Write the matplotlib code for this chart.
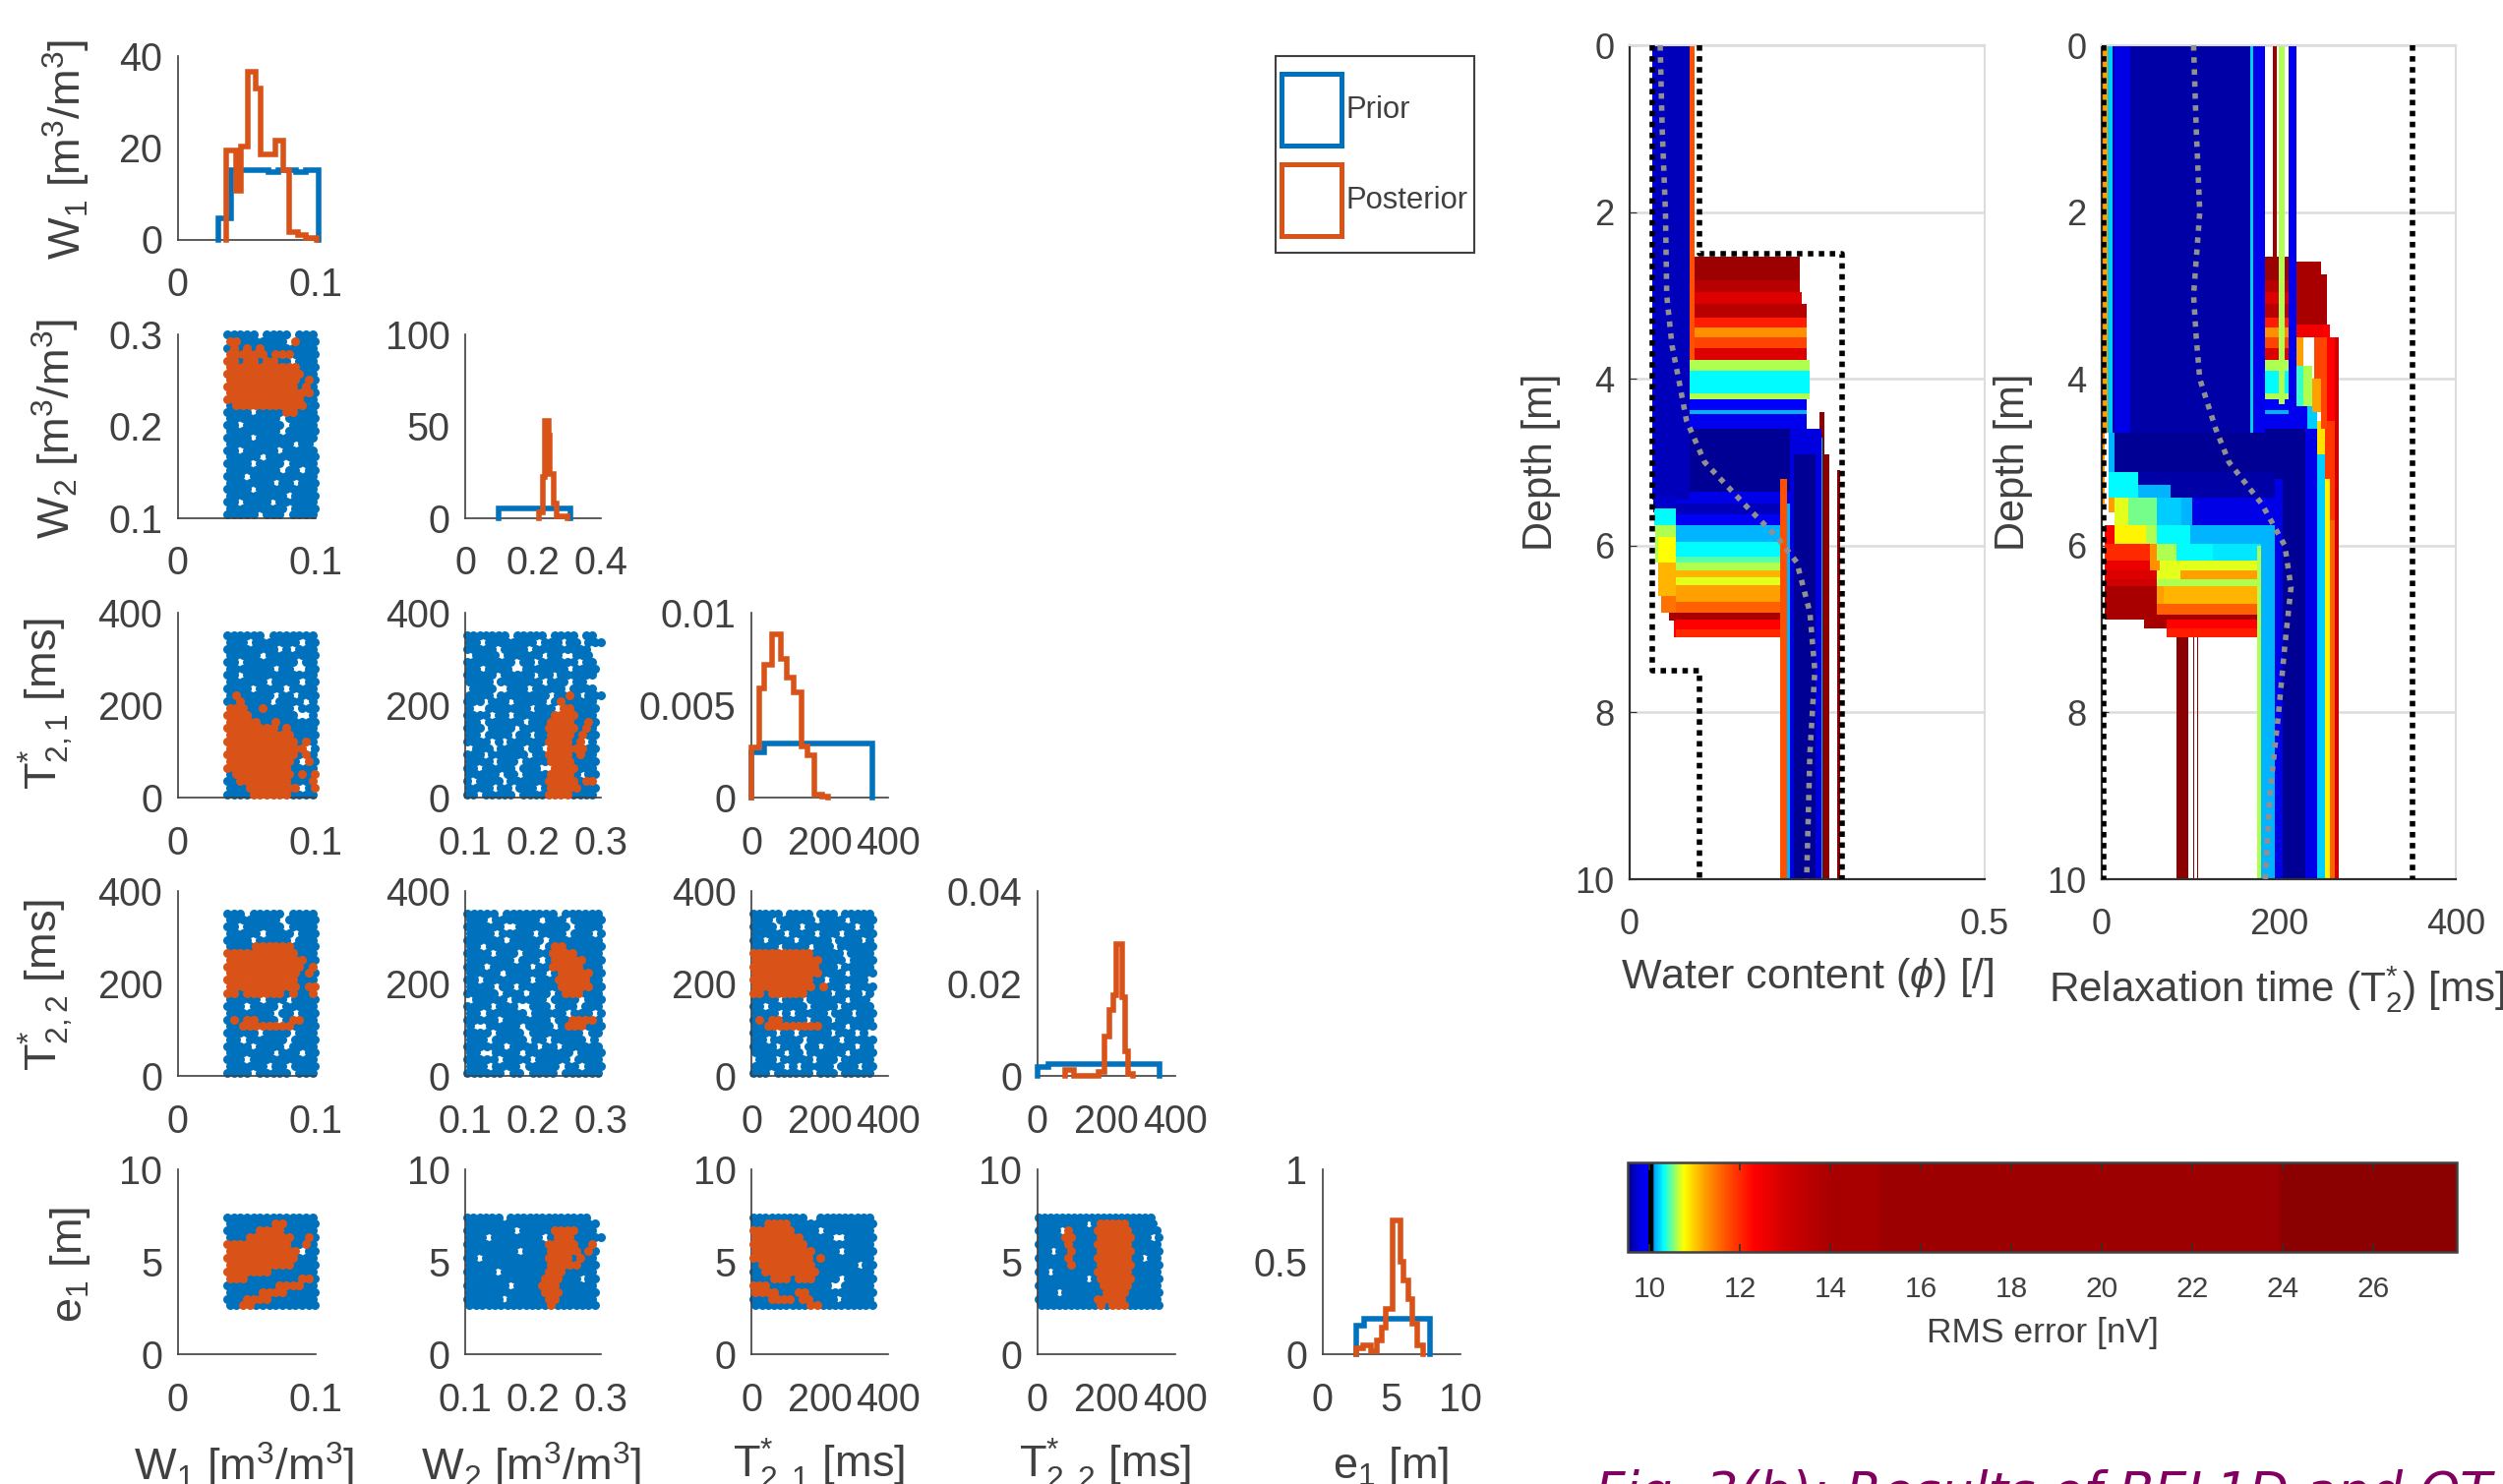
import matplotlib
matplotlib.use('Agg')
import matplotlib.pyplot as plt
from matplotlib.cm import ScalarMappable
from matplotlib.colors import LinearSegmentedColormap, Normalize
from matplotlib.patches import Patch, Rectangle

W, H = 2545, 1509
BLUE = '#0072BD'
ORANGE = '#D95319'
INK = '#404040'

plt.rcParams['font.family'] = ['Liberation Sans', 'DejaVu Sans']
plt.rcParams['mathtext.fontset'] = 'custom'
plt.rcParams['mathtext.rm'] = 'Liberation Sans'
plt.rcParams['mathtext.it'] = 'Liberation Sans:italic'
plt.rcParams['mathtext.bf'] = 'Liberation Sans:bold'
plt.rcParams['text.color'] = INK

# histograms (bin edges, then heights)
w1_prior_edges = [.0293, .0384, .0656, .0728, .0855, .0928, .1018]
w1_prior_vals = [4.6, 15.2, 14.6, 15.2, 14.6, 15.2]
w1_post_edges = [.0355, .042, .0457, .051, .0565, .06, .071, .0765, .081, .0873, .0928, .1007]
w1_post_vals = [19.5, 10.7, 20.3, 36.6, 33, 18.5, 21.6, 15.2, 1.7, 1, .3]
w2_prior_edges = [.0993, .311]
w2_prior_vals = [5]
w2_post_edges = [.218, .228, .2356, .245, .25, .262, .27, .3]
w2_post_vals = [3, 22, 53, 45, 24, 8, 1]
t1_prior_edges = [0, 36, 355]
t1_prior_vals = [.00245, .0029]
t1_post_edges = [0, 24, 38, 60, 86, 104, 125, 147, 163, 184, 206, 225]
t1_post_vals = [.0027, .0059, .00716, .00885, .0075, .00648, .0057, .00275, .00227, .00014, .00005]
t2_prior_edges = [0, 32, 355]
t2_prior_vals = [.0019, .0025]
t2_post_edges = [82, 108, 178, 194, 210, 222, 229, 245, 254, 264, 277]
t2_post_vals = [.00125, .0001, .0008, .0085, .0143, .0175, .0284, .017, .0054, .0005]
e1_prior_edges = [2.44, 3, 7.78]
e1_prior_vals = [.154, .194]
e1_post_edges = [2.44, 2.92, 3.49, 3.97, 4.29, 4.6, 5.08, 5.62, 5.9, 6.2, 6.5, 6.9, 7.3]
e1_post_vals = [.03, .05, .015, .076, .143, .243, .723, .5, .4, .3, .165, .05]

# scatter clouds: sample sites, one text row per
# row of sites ('#' prior, 'o' posterior). Single dots cannot be told apart in
# the reference, so the holes in the blue clouds are only estimates.
w1_w2 = [
    "##### #### ###", "oo####### o###", "#o#o#o########", "oooooo#ooo####", "oo#oo#oo## ###",
    "ooooooooooo###", "oooooooooooo##", "ooooooooooo#o#", "ooooooooooo#o#", "ooooooooooooo#",
    "oooooooooooo##", "#ooooooooooo##", "#### ####oo###", "######## #####", "## ###### ####",
    "######## #####", "#### #########", "########## ##", "## ##### #####", "##### ########",
    "#### #### ####", "######## ## ##", "### ##########", "####### ## ###", "#### #########",
    "######### ####", "## #### ######", "######### ####", "##### ### ####",
]
w1_t1 = [
    "###### #######", "### ####### ##", "######## # ###", "##### ########", "## ######## ##",
    "####### ##  ##", "## ###########", "###### #### ##", "#### #### ####", "#o##### ## ###",
    "##o#### #### #", "ooo##o#### ###", "oooo#######  #", "ooooo##o######", "oooooooo#o####",
    "oooooooooo####", "ooooooooooo#o#", "oooooooooooo #", "ooooooooooo#o#", "oooooooooo# o#",
    "oooooooooo####", "#ooooooooo#o#o", "##oooooooo###o", "###oooooooo #o", "####oooooo####",
]
w2_t1 = [
    "####### ##### #### ##", "## ######## ### ## ###", "##### #### #########", " #### ###### ##  ###",
    "######## ## ###### ##", "## ####  ####### ####", "##### ##### ## ######", "#### ####### ### ##",
    " ####  ### ##### ####", "#### ######## ##o# ###", "### ### ##### #o#####", "#  ####### ### oo####",
    "#### ## ######oooo###", "## ###### ###oooo##o#", "### #### ####ooooo#o#", "## #### ## ##oooo#o##",
    "#### # ######oooo#o #", " ### #### ## oooooo##", "### ###### ##oooo#o##", "#### ### ####oooo####",
    "## ##### ###  oooo###", "##### ## ####oooo# ##", "# #### ######ooooo#oo", "#### ## ### #ooooo###",
    "## ##### ####oooo####",
]
w1_t2 = [
    "### ##### ####", "######## #####", "## ###### ####", "##### #### ###", "#### ##### ###",
    "####oooooo####", "ooooooooooo###", "oooooooooooo##", "oooooooooooo#o", "ooooooooooo#o#",
    "ooooooooooo###", "ooooooooooo#oo", "oo#oooooo#o##o", "##### ### ####", "### #### #####",
    "####### ## ###", "#o#oo### #oo##", "##oooooooo####", "##### #### ###", "## ###### ####",
    "#### #### ####", "####### ### ##", "### ##########", "###### ## ####", "#### ##### ###",
]
w2_t2 = [
    "##### ######## ######", "### ####### ### #####", "######  ######## ####", "#### ##### #### ### #",
    "###### ##### ########", "## ######## #oo######", "#### ### ####oooo####", "####### ### #ooooo###",
    "### ###### ##ooooo###", "##### ###### #ooooo##", "## ####### ###ooooo##", "#### ## ######ooooo##",
    "##### ### ### #ooo###", " ##### ##### #### ###", "#### ###  ### ### ###", "## ###### ##### ### #",
    "##### ####### ##oooo#", "#  ##### #### #ooo###", "#### #### ######## ##", "### ##### ## ##### #",
    "###### #### ## ######", "##  #### ####### ####", "##### #### ##### ####", "### #### ##### ## ###",
    "###### ## #### ######",
]
t1_t2 = [
    "##### #### ### #####", "### ###### #### ####", "#### ### ######## ##", "##### #### ### #####",
    "## #### ##### #### #", "#### #### ### ######", "oooooooooo##### ####", "ooooooooooo#### ####",
    "ooooooooooo### #####", "ooooooooooo#### ####", "oooooooooo## ###### ", "oooooooooo#o### ####",
    "oo#oooooo#### #### #", "#### ### ###### ###", "## ###### #### #####", "#### # ##### ### ###",
    "#o#oo#### ### ######", "##ooooooooo#### ####", "#### ## ##### ### #", "## ##### ##### #####",
    "#### ### ## ##### ##", "##### ## ###### ####", " ### ##### ### #####", "##### # ##### ### ##",
    "### ###### ### #####",
]
w1_e1 = [
    "##############", "#######oo#####", "#####oooo#####", "###ooooooo##o#", "oooooooooo##o#",
    "ooooooooooo ##", "ooooooooooo###", "oooooooooo####", "ooooooo#######", "ooo########oo#",
    "########oooo##", "#####oooo#####", "###oooo#######", "##oo##########",
]
w2_e1 = [
    "###### #############", "#####################", "######## #####oooo###", "### ######## #ooo#####",
    "#############ooooo##o", "######## ####ooooo#o#", "## ##########oooo#o##", "#############ooooo###",
    "##### #######ooo#####", "############ooo### ##", "####### ####ooo######", "############ooo######",
    "###### ######oo######", "#############o#######",
]
t1_e1 = [
    "#########  #########", "##oooo##############", "ooooooo#### ########", "oooooooo#####  #####",
    "ooooooooo###########", "oooooooooo#### #####", "oooooooooo#o########", "#ooooooooo####### ##",
    "##ooooooooo#########", "###ooo#ooo#### #####", "ooo##########  #####", "oooo###oo###########",
    "###oooo#oo#### #####", "#########oo#########",
]
t2_e1 = [
    "####################", "######## #ooooo#####", "#### o####oooooo#####", "####oo####oooooo### #",
    "#####o####oooooo#####", "## ##o####oooooo#####", "#####o####oooooo## ##", "#####o####oooooo#####",
    "## #######oooooo#####", "######## #oooooo#####", "###########ooooo#####", "### #######oooo######",
    "##########ooooo######", "##########o#ooo######",
]

# RMS colour scale
rms_stops = [9.515, 9.6, 9.75, 9.95, 9.97, 10.06, 10.1, 10.3, 10.6, 10.75, 11.2, 11.7,
             12.3, 13, 13.6, 14, 15.05, 15.1, 23.9, 24, 27.84]
rms_colors = ['#00008c', '#0000a8', '#0000e0', '#0000ff', '#000000', '#000000', '#00a0ff', '#00ffff',
              '#b0ff50', '#ffff00', '#ffa000', '#ff5000', '#ff0000', '#d00000', '#b80000', '#a80000',
              '#a80000', '#9c0000', '#9c0000', '#8b0000', '#8b0000']
rms_ticks = [10, 12, 14, 16, 18, 20, 22, 24, 26]

# horizontal bands of the profiles: the step of each model at its depth e1
band_depth = [2.53, 2.82, 2.96, 3.1, 3.27, 3.38, 3.5, 3.63, 3.77, 3.9, 4.17, 4.25, 4.38, 4.42, 4.6,
              5.35, 5.5, 5.62, 5.75, 5.96, 6.13, 6.2, 6.3, 6.38, 6.47, 6.68, 6.8, 6.89, 7.0, 7.1]
band_rms = [20, 13.6, 12.8, 13.6, 12.1, 11.3, 11.8, 12.8, 10.6, 10.3, 10.6, 9.95, 10.15, 9.85,
            9.55, 9.8, 9.65, 9.9, 10.15, 10.3, 10.45, 10.6, 11.1, 10.7, 11.2, 11.6, 14, 12.3, 12]
water_band_left = [.085] * 14 + [.065] * 15
water_band_right = [.24, .24, .243, .249, .249, .25, .25, .25, .254, .254, .254, .25, .25, .25,
                    .255, .25, .25, .23, .22, .22, .22, .22, .22, .22, .22, .22, .22, .22, .22]

# water content profile, painted in this order (depth top/bottom, phi left/right, rms)
water_top = [4.4, 4.9, 5.1, 5.2, 5.5, 4.7, 4.6, 4.9, 0, 0, 0, 5.4, 5.55, 5.75, 5.9, 6.2, 6.6, 6.8, 6.9]
water_bottom = [4.9, 10, 10, 10, 10, 10, 10, 10, 3.77, 5.45, 5.45, 5.6, 5.75, 6.2, 6.2, 6.6, 6.8, 6.9, 7.1]
water_left = [.268, .272, .292, .2125, .2218, .262, .226, .232, .085, .0323, .0323, .034, .0345, .037, .04, .04, .045, .056, .062]
water_right = [.274, .281, .297, .222, .227, .272, .27, .262, .0924, .085, .037, .065, .065, .065, .065, .065, .065, .065, .065]
water_rms = [26, 26, 26, 11.7, 10.15, 10.15, 9.75, 9.55, 11.7, 9.65, 9.85, 9.7, 10.3, 10.6, 10.75, 11.1, 11.5, 14, 12.3]

# relaxation time profile, same order
t2_top = [3.5, 3.5, 5.7, 4.5, 5.2, 4.5, 4.9, 4.6, 4.5,
          2.6, 2.75, 3.35, 3.35, 3.5, 3.5, 4.0, 4.33, 3.85, 3.85, 4.0, 4.33,
          0, 0, 0, 0, 0, 0, 0, 0, 0, 0, 4.65, 4.65,
          5.12, 5.12, 5.27, 5.43, 5.43, 5.43, 5.43, 5.43, 5.43,
          5.75, 5.75, 5.75, 5.75, 5.75, 5.98, 5.98, 5.98, 5.98, 5.98,
          6.18, 6.18, 6.18, 6.3, 6.3, 6.3, 6.4, 6.4, 6.48, 6.48, 6.48, 6.7, 6.7,
          6.83, 6.89, 6.89, 6.99, 7.1, 7.1, 7.1, 4.6, 5.2, 5.8, 6.0]
t2_bottom = [10, 5.0, 10, 5.7, 10, 5.2, 10, 4.9, 10,
             2.75, 3.35, 3.5, 3.5, 4.0, 3.85, 4.6, 4.6, 4.33, 4.33, 4.4, 4.65,
             2.6, 4.3, 4.57, 4.65, 4.65, 4.65, 4.65, 4.65, 4.65, 5.5, 5.24, 5.12,
             5.43, 5.43, 5.55, 5.75, 5.6, 5.75, 5.75, 5.75, 5.75,
             5.98, 5.98, 5.98, 5.98, 5.98, 6.18, 6.18, 6.18, 6.18, 6.18,
             6.3, 6.3, 6.3, 6.4, 6.4, 6.4, 6.48, 6.48, 6.7, 6.7, 6.7, 6.83, 6.83,
             6.89, 6.99, 6.99, 7.1, 10, 10, 10, 10, 10, 10, 10]
t2_left = [264, 255, 258, 252, 252, 243, 243, 235, 230,
           213, 213, 213, 250, 240, 213, 248, 232, 213, 228, 238, 213,
           194, 200, 211, 8, 15, 168, 172, 7, 0, 0, 14, 8,
           41, 8, 41, 103, 8, 15, 30, 63, 90,
           100, 4, 15, 50, 63, 126, 4, 55, 63, 85,
           4, 55, 66, 4, 63, 89, 4, 63, 4, 63, 70, 4, 63,
           4, 48, 74, 74, 85, 103.5, 108, 205, 196, 180, 176]
t2_right = [268, 264, 264, 264, 258, 252, 252, 243, 243,
            248, 255, 250, 258, 255, 228, 255, 243, 238, 238, 248, 232,
            198, 207, 220, 185, 33, 171, 185, 13, 7, 4, 205, 15,
            196, 41, 78, 196, 15, 30, 63, 90, 103,
            196, 15, 50, 63, 100, 181, 55, 63, 85, 126,
            55, 66, 176, 63, 89, 176, 63, 176, 63, 70, 176, 63, 176,
            176, 74, 176, 176, 97.6, 105, 109.5, 230, 205, 196, 180]
t2_rms = [13, 12.3, 11.6, 11.9, 10.8, 10.9, 10.2, 10.2, 9.8,
          14.5, 14.5, 12.5, 12.3, 11.8, 11.2, 11.8, 10.2, 10.4, 10.6, 11.2, 9.85,
          17, 10.6, 9.85, 9.6, 9.8, 10.2, 9.85, 10.2, 11.2, 11.2, 9.55, 10.15,
          9.6, 10.3, 10.15, 9.8, 11.2, 10.7, 10.5, 10.2, 10.15,
          10.15, 12.3, 10.8, 10.6, 10.3, 10.25, 12, 11.3, 10.6, 10.3,
          12.6, 11.3, 10.7, 12.8, 10.7, 11.2, 13, 10.6, 14.5, 11.2, 11.1, 14.5, 11.6,
          14, 14, 12.3, 12.1, 25, 25, 25, 9.55, 9.8, 10.15, 10.6]

# medians (grey dots) and prior bounds (black dots) of the profiles
water_med_x = [.0434, .0462, .0508, .0526, .06, .0693, .0804, .106, .1614, .2078, .2356, .254, .261, .254, .2495]
water_med_d = [0, 1, 2, 3, 3.6, 4, 4.5, 5, 5.5, 5.9, 6.2, 6.8, 7.5, 8.5, 10]
t2_med_x = [104, 107, 111, 104, 107, 111, 129, 144, 181, 207, 214, 207, 200, 190, 185]
t2_med_d = [0, 1, 2, 3, 3.5, 4, 4.6, 5, 5.5, 6, 6.5, 7.2, 8, 9, 10]
water_low_x = [.032, .032, .099, .099]
water_low_d = [0, 7.5, 7.5, 10]
water_up_x = [.099, .099, .3, .3]
water_up_d = [0, 2.5, 2.5, 10]
t2_bounds = [2, 351]

fig = plt.figure(figsize=(W / 100, H / 100), dpi=100)


def axes_px(left, top, right, bottom):
    return fig.add_axes([left / W, 1 - bottom / H, (right - left) / W, (bottom - top) / H])


def text_px(x, y, s, **kw):
    fig.text(x / W, 1 - y / H, s, ha=kw.pop('ha', 'center'), va=kw.pop('va', 'center'), **kw)


def draw_cloud(ax, rows, xr, yr):
    n_col = max(len(r) for r in rows)
    dx = (xr[1] - xr[0]) / n_col
    dy = (yr[1] - yr[0]) / len(rows)
    for kind, color in (('#', BLUE), ('o', ORANGE)):
        xs, ys = [], []
        for r, row in enumerate(rows):
            for c, ch in enumerate(row):
                if ch == kind:
                    # every other row shifted a little, to avoid a visible lattice
                    xs.append(xr[0] + (c + 0.5 + (0.2 if r % 2 else -0.2)) * dx)
                    ys.append(yr[1] - (r + 0.5) * dy)
        ax.scatter(xs, ys, s=42, color=color, linewidths=0, zorder=3 if kind == 'o' else 2, clip_on=False)


def draw_hist(ax, edges, vals, color):
    x = [edges[0]]
    y = [0]
    for i, v in enumerate(vals):
        x += [edges[i], edges[i + 1]]
        y += [v, v]
    x.append(edges[-1])
    y.append(0)
    ax.plot(x, y, color=color, lw=4, clip_on=False, solid_joinstyle='miter', zorder=3)


def style_small(ax, xlim, ylim, xticks, yticks, xlab, ylab):
    ax.set_xlim(xlim)
    ax.set_ylim(ylim)
    ax.set_xticks(xticks, xlab)
    ax.set_yticks(yticks, ylab)
    ax.spines[['top', 'right']].set_visible(False)
    ax.spines[['left', 'bottom']].set_color(INK)
    ax.spines[['left', 'bottom']].set_linewidth(1.2)
    ax.tick_params(axis='x', length=0, pad=20, labelsize=28.5, labelcolor=INK)
    ax.tick_params(axis='y', length=0, pad=11, labelsize=28.5, labelcolor=INK)


# corner plot grid, pixel positions of columns and rows
col_px = [(180.6, 321), (473, 611), (764, 903), (1054.5, 1195), (1344.6, 1485)]
row_px = [(57, 243.5), (340, 526.5), (623, 811), (905.5, 1094), (1189, 1377)]
lim_w1 = ((0, .1), [0, .1], ['0', '0.1'])
lim_w2 = ((.1, .3), [.1, .2, .3], ['0.1', '0.2', '0.3'])
lim_t = ((0, 400), [0, 200, 400], ['0', '200', '400'])
lim_e = ((0, 10), [0, 5, 10], ['0', '5', '10'])
limits = [lim_w1, lim_w2, lim_t, lim_t, lim_e]
extent = [(.0345, .101), (.1, .303), (0, 358), (0, 358), (2.45, 7.6)]
clouds = {(1, 0): w1_w2, (2, 0): w1_t1, (2, 1): w2_t1, (3, 0): w1_t2, (3, 1): w2_t2, (3, 2): t1_t2,
          (4, 0): w1_e1, (4, 1): w2_e1, (4, 2): t1_e1, (4, 3): t2_e1}

for (row, col), cloud in clouds.items():
    ax = axes_px(col_px[col][0], row_px[row][0], col_px[col][1], row_px[row][1])
    style_small(ax, limits[col][0], limits[row][0], limits[col][1], limits[row][1], limits[col][2], limits[row][2])
    draw_cloud(ax, cloud, extent[col], extent[row])

hists = [
    ((0, .1), [0, .1], ['0', '0.1'], (0, 40), [0, 20, 40], ['0', '20', '40'],
     w1_prior_edges, w1_prior_vals, w1_post_edges, w1_post_vals),
    ((0, .4), [0, .2, .4], ['0', '0.2', '0.4'], (0, 100), [0, 50, 100], ['0', '50', '100'],
     w2_prior_edges, w2_prior_vals, w2_post_edges, w2_post_vals),
    ((0, 400), [0, 200, 400], ['0', '200', '400'], (0, .01), [0, .005, .01], ['0', '0.005', '0.01'],
     t1_prior_edges, t1_prior_vals, t1_post_edges, t1_post_vals),
    ((0, 400), [0, 200, 400], ['0', '200', '400'], (0, .04), [0, .02, .04], ['0', '0.02', '0.04'],
     t2_prior_edges, t2_prior_vals, t2_post_edges, t2_post_vals),
    ((0, 10), [0, 5, 10], ['0', '5', '10'], (0, 1), [0, .5, 1], ['0', '0.5', '1'],
     e1_prior_edges, e1_prior_vals, e1_post_edges, e1_post_vals),
]
for i, h in enumerate(hists):
    ax = axes_px(col_px[i][0], row_px[i][0], col_px[i][1], row_px[i][1])
    style_small(ax, h[0], h[3], h[1], h[4], h[2], h[5])
    draw_hist(ax, h[6], h[7], BLUE)
    draw_hist(ax, h[8], h[9], ORANGE)

# axis names of the corner plot
y_names = [r'W$_{1}$ [m$^{3}$/m$^{3}$]', r'W$_{2}$ [m$^{3}$/m$^{3}$]', r'T$^{*}_{2,1}$ [ms]',
           r'T$^{*}_{2,2}$ [ms]', r'e$_{1}$ [m]']
x_names = y_names
y_name_px = [(68, 152), (57, 436), (47, 716), (47, 1002), (71, 1286)]
x_name_px = [(248, 1491), (540, 1491), (832, 1491), (1123, 1491), (1414, 1491)]
for s, (x, y) in zip(y_names, y_name_px):
    text_px(x, y, s, fontsize=32.5, rotation=90)
for s, (x, y) in zip(x_names, x_name_px):
    text_px(x, y, s, fontsize=32.5)

fig.add_artist(Rectangle((1297 / W, 1 - 257 / H), 202 / W, 200 / H, transform=fig.transFigure,
                         facecolor='white', edgecolor=INK, lw=1.5))
handles = [Patch(facecolor='none', edgecolor=BLUE, lw=3.6, label='Prior'),
           Patch(facecolor='none', edgecolor=ORANGE, lw=3.6, label='Posterior')]
fig.legend(handles=handles, loc='upper left', bbox_to_anchor=(1303 / W, 1 - 75 / H), fontsize=22.3,
           handlelength=1.97, handleheight=3.24, handletextpad=0.15, labelspacing=0.61,
           borderpad=0, borderaxespad=0, frameon=False)

# colour scale
rms_pos = [(v - rms_stops[0]) / (rms_stops[-1] - rms_stops[0]) for v in rms_stops]
rms_cmap = LinearSegmentedColormap.from_list('rms', list(zip(rms_pos, rms_colors)), N=2048)
rms_norm = Normalize(rms_stops[0], rms_stops[-1])


def draw_rects(ax, top, bottom, left, right, rms):
    for t, b, l, r, v in zip(top, bottom, left, right, rms):
        ax.fill_betweenx([t, b], l, r, color=rms_cmap(rms_norm(v)), lw=0, clip_on=False, zorder=2)


def style_profile(ax, xlim, xticks, xlab):
    ax.set_xlim(xlim)
    ax.set_ylim(10, 0)
    ax.set_xticks(xticks, xlab)
    ax.set_yticks([0, 2, 4, 6, 8, 10], ['0', '2', '4', '6', '8', '10'])
    ax.grid(axis='y', color='#dcdcdc', lw=1.8, zorder=0)
    ax.set_axisbelow(True)
    for side in ('top', 'right'):
        ax.spines[side].set_color('#dcdcdc')
        ax.spines[side].set_linewidth(1.5)
    for side in ('left', 'bottom'):
        ax.spines[side].set_color('#303030')
        ax.spines[side].set_linewidth(1.6)
    ax.tick_params(axis='x', length=0, pad=21, labelsize=26, labelcolor=INK)
    ax.tick_params(axis='y', length=5, direction='in', pad=11, labelsize=26, labelcolor=INK, color='#303030')


ax = axes_px(1656.7, 46, 2018, 894)
style_profile(ax, (0, .5), [0, .5], ['0', '0.5'])
draw_rects(ax, band_depth[:-1], band_depth[1:], water_band_left, water_band_right, band_rms)
draw_rects(ax, water_top, water_bottom, water_left, water_right, water_rms)
ax.plot(water_med_x, water_med_d, color='#909090', lw=4, ls=(0, (1, 1.2)), zorder=4)
ax.plot(water_low_x, water_low_d, color='k', lw=4, ls=(0, (1, 1)), zorder=5)
ax.plot(water_up_x, water_up_d, color='k', lw=4, ls=(0, (1, 1)), zorder=5)
text_px(1567, 470, 'Depth [m]', fontsize=30, rotation=90)
text_px(1837, 994, r'Water content ($\phi$) [/]', fontsize=31)

ax = axes_px(2136.7, 46, 2497, 894)
style_profile(ax, (0, 400), [0, 200, 400], ['0', '200', '400'])
draw_rects(ax, band_depth[:15], band_depth[1:16], [185] * 15, [213] * 15, band_rms[:15])
draw_rects(ax, t2_top, t2_bottom, t2_left, t2_right, t2_rms)
ax.plot(t2_med_x, t2_med_d, color='#909090', lw=4, ls=(0, (1, 1.2)), zorder=4)
for bound in t2_bounds:
    ax.plot([bound, bound], [0, 10], color='k', lw=4, ls=(0, (1, 1)), zorder=5)
text_px(2047, 470, 'Depth [m]', fontsize=30, rotation=90)
text_px(2083, 1006, r'Relaxation time (T$^{*}_{2}$) [ms]', fontsize=30.3, ha='left')

cax = axes_px(1655, 1182, 2498, 1273)
sm = ScalarMappable(norm=rms_norm, cmap=rms_cmap)
cb = fig.colorbar(sm, cax=cax, orientation='horizontal', ticks=rms_ticks)
cb.ax.tick_params(axis='x', length=6, direction='in', top=True, bottom=True, pad=17, labelsize=21.5,
                  labelcolor=INK, color='#303030', width=1.2)
cb.outline.set_edgecolor('#404040')
cb.outline.set_linewidth(1.8)
text_px(2077, 1355, 'RMS error [nV]', fontsize=25.5)

text_px(1622, 1535, 'Fig. 3(b): Results of BEL1D and QT', fontsize=38, color='#800060', ha='left', va='baseline',
        family='DejaVu Sans', style='italic')

fig.savefig('out.png', dpi=100)
